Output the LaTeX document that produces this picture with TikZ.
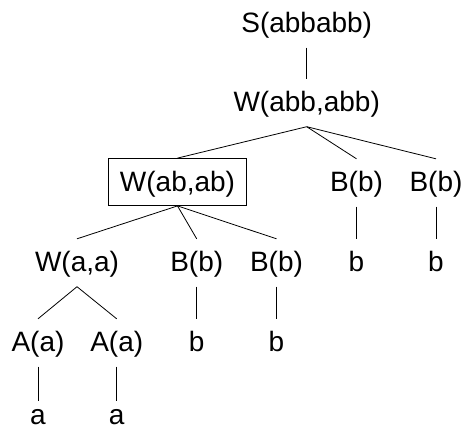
\documentclass[tikz,border=0pt]{standalone}
\usepackage{fontspec}
\setmainfont{Liberation Sans}
\begin{document}
\begin{tikzpicture}[x=1bp,y=-1bp,
  lbl/.style={anchor=base, font=\fontsize{28bp}{34bp}\selectfont,
    text height=20.5bp, text depth=4bp, inner xsep=2bp, inner ysep=11.5bp},
  leafa/.style={lbl, text height=14bp, text depth=0bp, inner ysep=0bp},
  framed/.style={lbl, draw, line width=0.8bp, inner xsep=11.7bp,
    inner ysep=12bp, text depth=2.5bp},
  edge/.style={line width=0.8bp},
  toleaf/.style={edge, shorten >=9bp}]
\useasboundingbox (0,0) rectangle (465,431);

% level 0 and 1
\node[lbl] (s)  at (306.7,32)  {S(abbabb)};
\node[lbl] (w1) at (306.7,111) {W(abb,abb)};

% level 2
\node[framed] (w2) at (177.5,191) {W(ab,ab)};
\node[lbl] (b1) at (356.5,191) {B(b)};
\node[lbl] (b2) at (436,191)   {B(b)};

% level 3
\node[lbl] (w3) at (77,271)    {W(a,a)};
\node[lbl] (b3) at (196.7,271) {B(b)};
\node[lbl] (b4) at (276.5,271) {B(b)};
\node[lbl] (t1) at (356.5,271) {b};
\node[lbl] (t2) at (436,271)   {b};

% level 4
\node[lbl] (a1) at (38,351)    {A(a)};
\node[lbl] (a2) at (116.7,351) {A(a)};
\node[lbl] (t3) at (196.7,351) {b};
\node[lbl] (t4) at (276.5,351) {b};

% level 5
\node[leafa] (l1) at (38,424.5)    {a};
\node[leafa] (l2) at (116.7,424.5) {a};

% tree edges
\draw[edge] (s.south) -- (w1.north);
\draw[edge] (w1.south) -- (w2.north);
\draw[edge] (w1.south) -- (b1.north);
\draw[edge] (w1.south) -- (b2.north);
\draw[edge] (b1.south) -- (t1.north);
\draw[edge] (b2.south) -- (t2.north);
\draw[edge] (w2.south) -- (w3.north);
\draw[edge] (w2.south) -- (b3.north);
\draw[edge] (w2.south) -- (b4.north);
\draw[edge] (b3.south) -- (t3.north);
\draw[edge] (b4.south) -- (t4.north);
\draw[edge] (w3.south) -- (a1.north);
\draw[edge] (w3.south) -- (a2.north);
\draw[toleaf] (a1.south) -- (l1.north);
\draw[toleaf] (a2.south) -- (l2.north);
\end{tikzpicture}
\end{document}
